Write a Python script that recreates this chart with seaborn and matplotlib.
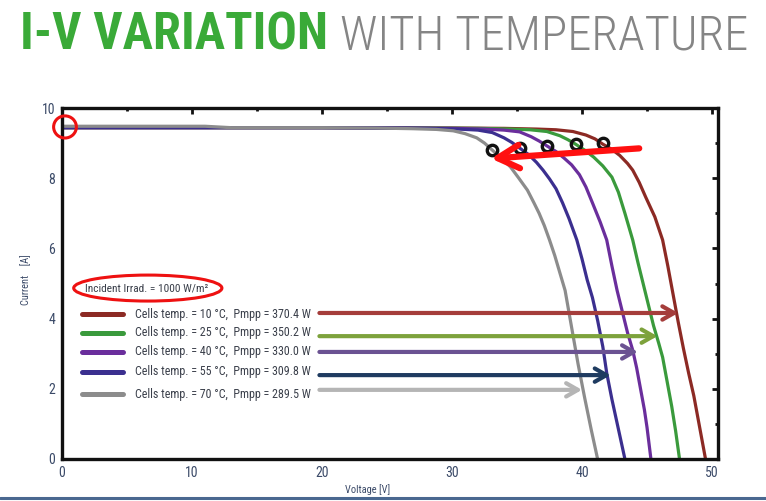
import matplotlib
matplotlib.use("Agg")
import matplotlib.pyplot as plt
from matplotlib.patches import Ellipse
from matplotlib import font_manager
import seaborn as sns
import pandas as pd
import numpy as np

# ---------------- data ----------------
temps = ["10", "25", "40", "55", "70"]
pmpp = ["370.4", "350.2", "330.0", "309.8", "289.5"]

red_v = [0, 20, 30, 34, 36.5, 38, 39.3, 40.3, 41.0, 41.6, 42.3, 42.9, 43.5, 43.9, 44.4, 44.9,
         45.6, 46.2, 46.6, 47.0, 47.4, 47.8, 48.2, 48.6, 48.9, 49.2, 49.5]
red_i = [9.44, 9.44, 9.43, 9.42, 9.40, 9.38, 9.33, 9.23, 9.12, 8.97, 8.82, 8.65, 8.42, 8.23, 7.88, 7.46,
         6.9, 6.24, 5.5, 4.7, 3.9, 3.15, 2.45, 1.8, 1.2, 0.6, 0]

green_v = [0, 20, 28, 32, 34.5, 36, 37.3, 38.3, 38.9, 39.5, 40.2, 40.9, 41.6, 42.3, 42.8, 43.3,
           43.9, 44.3, 44.7, 45.1, 45.5, 45.9, 46.2, 46.6, 46.9, 47.2, 47.5]
green_i = [9.44, 9.44, 9.43, 9.42, 9.40, 9.38, 9.33, 9.21, 9.1, 8.97, 8.8, 8.6, 8.35, 8.03, 7.6, 7.0,
           6.24, 5.6, 5.0, 4.4, 3.8, 3.3, 2.9, 2.1, 1.5, 0.8, 0]

purple_v = [0, 20, 26, 30, 32.5, 34, 35.2, 36.1, 36.7, 37.3, 38.0, 38.6, 39.2, 39.8, 40.3, 40.8,
            41.4, 41.9, 42.3, 42.7, 43.1, 43.5, 43.9, 44.2, 44.5, 44.8, 45.0, 45.3]
purple_i = [9.44, 9.44, 9.43, 9.42, 9.40, 9.37, 9.32, 9.18, 9.06, 8.92, 8.76, 8.58, 8.38, 8.1, 7.75, 7.3,
            6.75, 6.24, 5.5, 4.8, 4.2, 3.6, 3.1, 2.6, 2.0, 1.4, 0.9, 0]

blue_v = [0, 20, 24, 28, 30.5, 32, 33.1, 34.0, 34.6, 35.2, 35.9, 36.5, 37.0, 37.5, 38.0, 38.5,
          39.0, 39.6, 40.0, 40.4, 40.8, 41.2, 41.6, 41.9, 42.3, 42.8, 43.3]
blue_i = [9.44, 9.44, 9.43, 9.42, 9.40, 9.37, 9.3, 9.15, 9.02, 8.86, 8.67, 8.45, 8.23, 7.98, 7.7, 7.3,
          6.85, 6.24, 5.7, 5.1, 4.6, 3.95, 3.2, 2.45, 1.7, 0.85, 0]

gray_v = [0, 11, 13, 20, 24, 27, 28.8, 30.1, 31.0, 31.9, 32.5, 33.1, 33.8, 34.5, 35.1, 35.8,
          36.3, 36.7, 37.1, 37.5, 37.9, 38.3, 38.7, 39.2, 39.7, 40.2, 40.7, 41.2]
gray_i = [9.48, 9.48, 9.44, 9.44, 9.43, 9.41, 9.39, 9.35, 9.27, 9.15, 9.0, 8.80, 8.57, 8.32, 8.02, 7.66,
          7.3, 7.0, 6.65, 6.24, 5.8, 5.3, 4.8, 3.75, 2.7, 1.75, 0.85, 0]

mpp_v = [33.1, 35.2, 37.3, 39.5, 41.6]
mpp_i = [8.80, 8.86, 8.92, 8.97, 9.00]

arrow_tip_v = [47.4, 45.8, 44.3, 42.2, 40.0]
arrow_y = [4.16, 3.50, 3.05, 2.39, 1.97]
legend_y = [4.13, 3.59, 3.05, 2.48, 1.85]

curve_colors = ["#8c2a24", "#3a9a3c", "#6a2e9c", "#3b2f8f", "#8c8c8c"]
arrow_colors = ["#a53d3b", "#7da23c", "#6b5292", "#1f3b60", "#b5b5b5"]

# ---------------- build frame ----------------
rows = []
for t, vs, cs in zip(temps, [red_v, green_v, purple_v, blue_v, gray_v],
                     [red_i, green_i, purple_i, blue_i, gray_i]):
    for v, c in zip(vs, cs):
        rows.append({"T": t, "V": v, "I": c})
df = pd.DataFrame(rows)

sns.set_theme(style="white")

# pick a narrow font if one is installed
names = {f.name for f in font_manager.fontManager.ttflist}
cond_stretch = {(f.name, f.stretch) for f in font_manager.fontManager.ttflist}
narrow = None
for cand in ["Liberation Sans Narrow", "Roboto Condensed", "Open Sans Condensed",
             "DejaVu Sans Condensed", "Noto Sans Condensed"]:
    if cand in names:
        narrow = cand
        break
stretch = "normal"
if narrow is None:
    narrow = "DejaVu Sans"
    if any(n == "DejaVu Sans" and s in ("condensed", 600, "semi-condensed") for n, s in cond_stretch):
        stretch = "condensed"
plt.rcParams["font.family"] = [narrow, "DejaVu Sans"]
plt.rcParams["font.stretch"] = stretch

fig = plt.figure(figsize=(7.66, 5.01), dpi=100)
ax = fig.add_axes([62/766, 1-459/501, (718-62)/766, (459-108)/501])

sns.lineplot(data=df, x="V", y="I", hue="T", palette=dict(zip(temps, curve_colors)),
             hue_order=temps, sort=False, estimator=None, legend=False, linewidth=2.3, ax=ax)
for ln in ax.lines:
    ln.set_solid_joinstyle("round")

ax.plot(mpp_v, mpp_i, linestyle="none", marker="o", markersize=7.5,
        markerfacecolor="none", markeredgecolor="#111111", markeredgewidth=2.4, zorder=5)

ax.annotate("", xy=(33.0, 8.56), xytext=(44.4, 8.85),
            arrowprops=dict(arrowstyle="->,head_length=1.3,head_width=0.7",
                            color="#ff1010", lw=4.5, shrinkA=0, shrinkB=0), zorder=6)

renderer = fig.canvas.get_renderer()


def fit(txt, target_px):
    w = txt.get_window_extent(renderer).width
    txt.set_fontsize(txt.get_fontsize() * target_px / w)


for k in range(5):
    ax.plot([1.54, 4.69], [legend_y[k], legend_y[k]], color=curve_colors[k], lw=3.6,
            solid_capstyle="round")
    t = ax.text(5.6, legend_y[k], f"Cells temp. = {temps[k]} °C,  Pmpp = {pmpp[k]} W",
                fontsize=8, color="#3a3f4a", va="center", ha="left")
    fit(t, 176)
    ax.annotate("", xy=(arrow_tip_v[k], arrow_y[k]), xytext=(19.8, arrow_y[k]),
                arrowprops=dict(arrowstyle="->,head_length=0.7,head_width=0.4",
                                color=arrow_colors[k], lw=3.0, shrinkA=0, shrinkB=0))

ti = ax.text(1.75, 4.87, "Incident Irrad. = 1000 W/m²", fontsize=7.5, color="#3a3f4a",
             va="center", ha="left")
fit(ti, 124)
ax.add_patch(Ellipse((6.6, 4.87), 11.4, 0.74, fill=False, edgecolor="#ee1111", lw=2.2,
                     clip_on=False, zorder=6))
ax.add_patch(Ellipse((0.23, 9.46), 1.75, 0.63, fill=False, edgecolor="#ee1111", lw=2.2,
                     clip_on=False, zorder=6))

ax.set_xlim(0, 50.46)
ax.set_ylim(0, 10)
ax.set_xticks([0, 10, 20, 30, 40, 50])
ax.set_yticks([0, 2, 4, 6, 8, 10])
ax.set_xticks(np.arange(5, 50, 10), minor=True)
ax.set_yticks(np.arange(1, 10, 2), minor=True)
ax.tick_params(which="both", direction="in", top=True, right=True, width=2.0,
               labelsize=10, labelcolor="#3b4a68", color="#111111")
ax.tick_params(which="major", length=4.5, pad=5)
ax.tick_params(which="minor", length=2.5)
for s in ax.spines.values():
    s.set_linewidth(2.4)
    s.set_color("#111111")
ax.set_xlabel("")
ax.set_ylabel("")
fig.text(368/766, 1-490/501, "Voltage [V]", fontsize=7.5, color="#3b4a68", ha="center", va="center")
fig.text(26/766, 1-280/501, "Current    [A]", fontsize=7.5, color="#3b4a68", ha="center",
         va="center", rotation=90)

# title
t1 = fig.text(20/766, 1-50/501, "I-V VARIATION", fontsize=30, fontweight="bold",
              color="#3aaa38", ha="left", va="baseline")
t2 = fig.text(340/766, 1-50/501, "WITH TEMPERATURE", fontsize=30, fontweight="light",
              color="#858585", ha="left", va="baseline")
fit(t1, 308)
fit(t2, 408)

fig.add_artist(plt.Line2D([0, 1], [1-498/501, 1-498/501], color="#4a6890", lw=2.2,
                          transform=fig.transFigure))

fig.savefig("out.png", dpi=100)
